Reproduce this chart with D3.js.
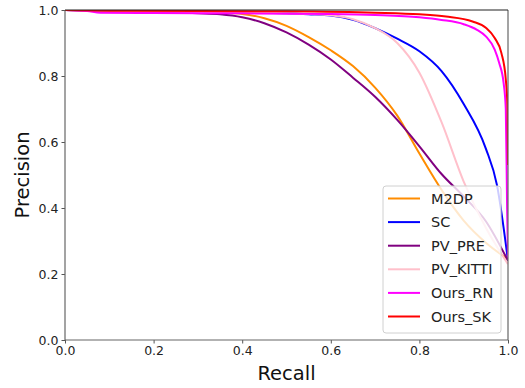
<!DOCTYPE html>
<html><head><meta charset="utf-8">
<script src="https://cdn.jsdelivr.net/npm/d3@7"></script>
<style>body{margin:0;background:#fff}svg{display:block}text{font-family:"DejaVu Sans",sans-serif}</style>
</head><body><svg id="c" width="525" height="388"></svg>
<script>
const seriesNames = ["M2DP","SC","PV_PRE","PV_KITTI","Ours_RN","Ours_SK"];
const seriesColors = ["#ff8c00","#0000ff","#800080","#ffc0cb","#ff00ff","#ff0000"];
const m2dpR = [0,0.1,0.2,0.3,0.35,0.4,0.45,0.5,0.55,0.6,0.65,0.7,0.75,0.8,0.85,0.9,0.95,1.0];
const m2dpP = [1.0,0.998,0.996,0.994,0.992,0.988,0.975,0.952,0.918,0.878,0.83,0.765,0.68,0.565,0.455,0.362,0.295,0.245];
const scR = [0,0.2,0.4,0.5,0.55,0.6,0.65,0.7,0.75,0.8,0.85,0.9,0.95,0.975,1.0];
const scP = [1.0,0.997,0.993,0.99,0.987,0.983,0.97,0.945,0.913,0.875,0.815,0.715,0.58,0.47,0.24];
const pvPreR = [0,0.1,0.2,0.3,0.35,0.4,0.45,0.5,0.55,0.6,0.65,0.7,0.75,0.8,0.85,0.9,0.95,1.0];
const pvPreP = [1.0,0.996,0.993,0.99,0.987,0.978,0.96,0.932,0.895,0.85,0.795,0.737,0.667,0.587,0.503,0.435,0.36,0.24];
const pvKittiR = [0,0.2,0.4,0.5,0.55,0.6,0.65,0.7,0.75,0.8,0.85,0.9,0.95,1.0];
const pvKittiP = [1.0,0.996,0.993,0.99,0.988,0.984,0.972,0.945,0.9,0.81,0.66,0.48,0.34,0.23];
const oursRnR = [0,0.05,0.08,0.2,0.4,0.6,0.7,0.8,0.85,0.9,0.93,0.95,0.97,0.98,0.99,0.995,0.998,1.0];
const oursRnP = [1.0,0.997,0.992,0.991,0.99,0.988,0.985,0.978,0.97,0.957,0.94,0.92,0.88,0.84,0.78,0.7,0.4,0.25];
const oursSkR = [0,0.1,0.3,0.5,0.7,0.8,0.86,0.92,0.95,0.97,0.985,0.995,0.999,1.0];
const oursSkP = [1.0,0.998,0.997,0.996,0.992,0.987,0.98,0.965,0.946,0.915,0.87,0.79,0.7,0.53];
const xTicks = [0,0.2,0.4,0.6,0.8,1.0];
const yTicks = [0,0.2,0.4,0.6,0.8,1.0];

const seriesR = [m2dpR,scR,pvPreR,pvKittiR,oursRnR,oursSkR];
const seriesP = [m2dpP,scP,pvPreP,pvKittiP,oursRnP,oursSkP];

const svg = d3.select("#c");
const L=65,R=508,T=10,B=340;
const x = d3.scaleLinear().domain([0,1]).range([L,R]);
const y = d3.scaleLinear().domain([0,1]).range([B,T]);

svg.append("defs").append("clipPath").attr("id","clip").append("rect")
  .attr("x",L).attr("y",T).attr("width",R-L).attr("height",B-T);

const line = d3.line().x(d=>x(d[0])).y(d=>y(d[1])).curve(d3.curveMonotoneX);
const g = svg.append("g").attr("clip-path","url(#clip)");
seriesNames.forEach((n,i)=>{
  const pts = seriesR[i].map((r,j)=>[r,seriesP[i][j]]);
  g.append("path").attr("d",line(pts)).attr("fill","none")
   .attr("stroke",seriesColors[i]).attr("stroke-width",2).attr("stroke-linejoin","round");
});

const xa = svg.append("g").attr("transform",`translate(0,${B})`)
  .call(d3.axisBottom(x).tickValues(xTicks).tickFormat(d3.format(".1f")).tickSizeOuter(0).tickSize(3.5).tickPadding(3));
const ya = svg.append("g").attr("transform",`translate(${L},0)`)
  .call(d3.axisLeft(y).tickValues(yTicks).tickFormat(d3.format(".1f")).tickSizeOuter(0).tickSize(3.5).tickPadding(3));
[xa,ya].forEach(a=>{
  a.select(".domain").remove();
  a.selectAll("line").attr("stroke","#555");
  a.selectAll("text").attr("fill","#222").style("font-size","12.5px").style("font-family","DejaVu Sans");
});

// spines
svg.append("line").attr("x1",L).attr("x2",L).attr("y1",T).attr("y2",B).attr("stroke","#666").attr("stroke-width",1.2);
svg.append("line").attr("x1",L).attr("x2",R).attr("y1",B).attr("y2",B).attr("stroke","#666").attr("stroke-width",1.2);
svg.append("line").attr("x1",R).attr("x2",R).attr("y1",T).attr("y2",B).attr("stroke","#666").attr("stroke-width",1.2);
svg.append("line").attr("x1",L).attr("x2",R).attr("y1",T).attr("y2",T).attr("stroke","#222").attr("stroke-width",1.2);

svg.append("text").attr("x",(L+R)/2).attr("y",380).attr("text-anchor","middle")
  .style("font-size","19.5px").attr("fill","#111").text("Recall");
svg.append("text").attr("transform",`translate(29,${(T+B)/2}) rotate(-90)`).attr("text-anchor","middle")
  .style("font-size","19.5px").attr("fill","#111").text("Precision");

// legend
const lg = svg.append("g");
lg.append("rect").attr("x",383).attr("y",186).attr("width",118).attr("height",147)
  .attr("rx",3).attr("fill","#fff").attr("fill-opacity",0.8).attr("stroke","#d0d0d0").attr("stroke-width",1);
seriesNames.forEach((n,i)=>{
  const cy = 198.5 + i*23.6;
  lg.append("line").attr("x1",388).attr("x2",420).attr("y1",cy).attr("y2",cy)
    .attr("stroke",seriesColors[i]).attr("stroke-width",2);
  lg.append("text").attr("x",431).attr("y",cy+5).style("font-size","14.5px").attr("fill","#222").text(n);
});
</script></body></html>
